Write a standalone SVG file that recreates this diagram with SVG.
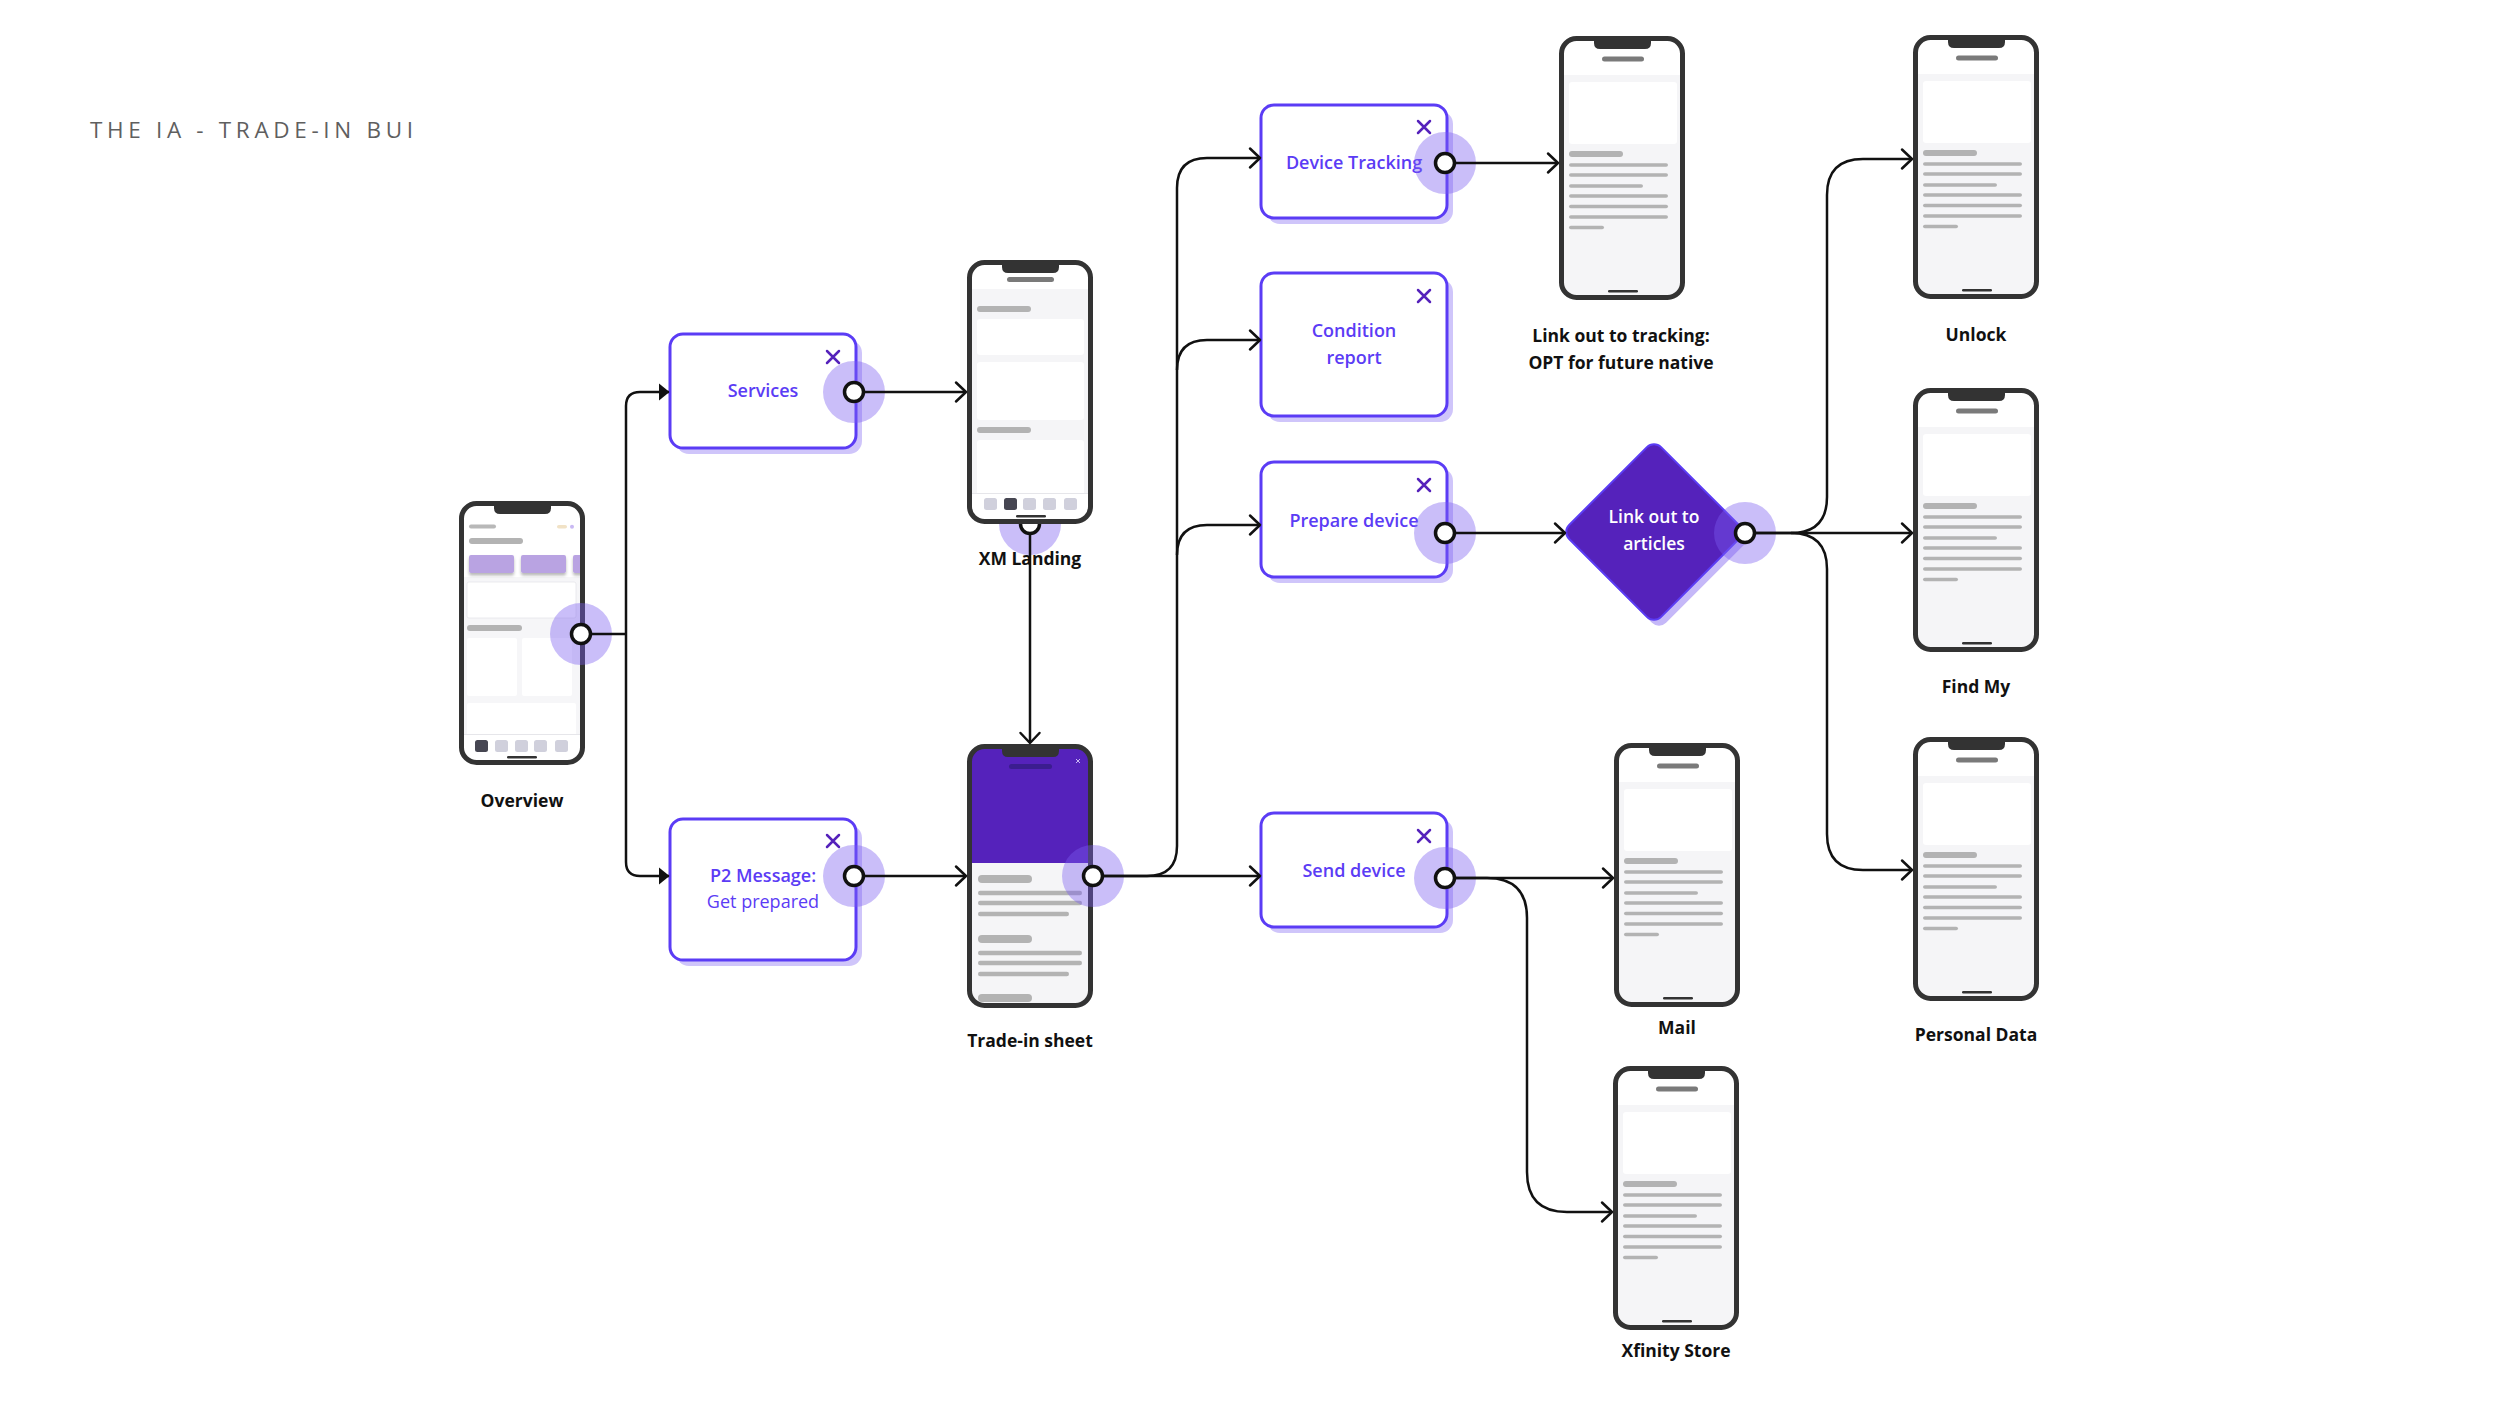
<svg xmlns="http://www.w3.org/2000/svg" xmlns:xlink="http://www.w3.org/1999/xlink" width="2500" height="1406" viewBox="0 0 2500 1406">
<style>
.frame{fill:none;stroke:#333;stroke-width:5}
.scr{fill:#fff}
.bg{fill:#f5f5f7}
.card{fill:#fff}
.bar{fill:#b3b3b3}
.pill{fill:#7a7a7a}
.ind{fill:#333}
.tab{fill:#d0d0dc}
.tabon{fill:#464652}
.conn{fill:none;stroke:#111;stroke-width:2.5}
.halo{fill:#7b5cf0;fill-opacity:.4}
.port{fill:#fff;stroke:#111;stroke-width:3.5}
.box{fill:#fff;stroke:#5b3cf5;stroke-width:3}
.shadow{fill:#cfc5fa}
.btxt{font-family:"Open Sans",Lato,"DejaVu Sans",sans-serif;font-weight:600;font-size:18px;fill:#5b3cf5;text-anchor:middle}
.btxt2{font-family:"Open Sans",Lato,"DejaVu Sans",sans-serif;font-weight:400;font-size:18px;fill:#5b3cf5;text-anchor:middle}
.lbl{font-family:"Open Sans",Lato,"DejaVu Sans",sans-serif;font-weight:700;font-size:17.5px;fill:#111;text-anchor:middle}
.wtxt{font-family:"Open Sans",Lato,"DejaVu Sans",sans-serif;font-weight:600;font-size:17.5px;fill:#fff;text-anchor:middle}
.xi{stroke:#5522bb;stroke-width:2.5;stroke-linecap:round;fill:none}
.title{font-family:"Open Sans",Lato,"DejaVu Sans",sans-serif;font-weight:400;font-size:22.5px;fill:#5f5f5f}
</style>
<defs>
<clipPath id="screenClip"><rect x="3" y="3" width="120" height="258" rx="13"/></clipPath>
<filter id="soft" x="-20%" y="-30%" width="140%" height="180%"><feDropShadow dx="0" dy="2.5" stdDeviation="1.8" flood-color="#000" flood-opacity="0.28"/></filter>
<marker id="chev" markerUnits="userSpaceOnUse" markerWidth="24" markerHeight="26" viewBox="-14 -13 24 26" refX="0" refY="0" orient="auto" overflow="visible">
<path d="M-10,-9.5 L0,0 L-10,9.5" fill="none" stroke="#111" stroke-width="2.5" stroke-linejoin="round" stroke-linecap="round"/>
</marker>
<marker id="tri" markerUnits="userSpaceOnUse" markerWidth="24" markerHeight="26" viewBox="-14 -13 24 26" refX="0" refY="0" orient="auto" overflow="visible">
<path d="M-10,-8.5 L0.5,0 L-10,8.5 Z" fill="#111"/>
</marker>
<path id="notch" d="M35,2 H92 V7 Q92,13 86,13 H41 Q35,13 35,7 Z" fill="#333"/>
<g id="tplDetail">
<rect class="scr" x="2.5" y="2.5" width="121" height="259" rx="15"/>
<g clip-path="url(#screenClip)">
<rect class="bg" x="3" y="39" width="120" height="222"/>
<rect class="card" x="10" y="46" width="108" height="62" rx="3"/>
<rect class="bar" x="10" y="115" width="54" height="6" rx="3"/>
<rect class="bar" x="10" y="127.2" width="99" height="3.6" rx="1.8"/>
<rect class="bar" x="10" y="137.2" width="99" height="3.6" rx="1.8"/>
<rect class="bar" x="10" y="148.2" width="74" height="3.6" rx="1.8"/>
<rect class="bar" x="10" y="158.2" width="99" height="3.6" rx="1.8"/>
<rect class="bar" x="10" y="168.7" width="99" height="3.6" rx="1.8"/>
<rect class="bar" x="10" y="179.2" width="99" height="3.6" rx="1.8"/>
<rect class="bar" x="10" y="189.7" width="35" height="3.6" rx="1.8"/>
</g>
<rect class="pill" x="43" y="20.5" width="42" height="5" rx="2.5"/>
<rect class="ind" x="49" y="254" width="30" height="2.5" rx="1.2"/>
<rect class="frame" x="2.5" y="2.5" width="121" height="259" rx="15"/>
<use href="#notch"/>
</g>
</defs>

<text class="title" x="90" y="138" textLength="323" lengthAdjust="spacing">THE IA - TRADE-IN BUI</text>

<!-- Overview -->
<g id="node-overview">
<g transform="translate(459,501)">
<rect class="scr" x="2.5" y="2.5" width="121" height="259" rx="15"/>
<g clip-path="url(#screenClip)">
<rect fill="#f6f6f8" x="3" y="76" width="120" height="157"/>
<rect x="10" y="23.5" width="27" height="4" rx="2" fill="#b8b8b8"/>
<rect x="98" y="24" width="10" height="3.5" rx="1.75" fill="#f1e2c6"/>
<circle cx="113" cy="25.7" r="2" fill="#c9b9f3"/>
<rect class="bar" x="10" y="37" width="54" height="6" rx="3"/>
<g filter="url(#soft)">
<rect x="10" y="54" width="45" height="18" rx="2" fill="#b9a3e2"/>
<rect x="62" y="54" width="45" height="18" rx="2" fill="#b9a3e2"/>
<rect x="114" y="54" width="14" height="18" rx="2" fill="#b9a3e2"/>
</g>
<rect x="8" y="81" width="109" height="36" rx="2" fill="#fff" stroke="#e6e6ea" stroke-width="0.8"/>
<rect class="bar" x="8" y="124" width="55" height="6" rx="3"/>
<rect class="card" x="8" y="137" width="50" height="58" rx="2"/>
<rect class="card" x="63" y="137" width="50" height="58" rx="2"/>
<rect class="card" x="8" y="202" width="109" height="36" rx="2"/>
<rect fill="#fff" x="3" y="233" width="120" height="30"/>
<rect fill="#e6e6ea" x="3" y="233" width="120" height="1"/>
<rect class="tabon" x="16" y="239" width="13" height="12" rx="2.5"/>
<rect class="tab" x="36" y="239" width="13" height="12" rx="2.5"/>
<rect class="tab" x="56" y="239" width="13" height="12" rx="2.5"/>
<rect class="tab" x="75" y="239" width="13" height="12" rx="2.5"/>
<rect class="tab" x="96" y="239" width="13" height="12" rx="2.5"/>
</g>
<rect class="ind" x="48" y="255" width="30" height="2.5" rx="1.2"/>
<rect class="frame" x="2.5" y="2.5" width="121" height="259" rx="15"/>
<use href="#notch"/>
</g>
<circle class="halo" cx="581" cy="634" r="31"/>
<circle class="port" cx="581" cy="634" r="9.5"/>
<text class="lbl" x="522" y="807">Overview</text>
</g>

<!-- Services -->
<g id="node-services">
<rect class="shadow" x="676" y="340" width="186" height="114" rx="13"/>
<rect class="box" x="670" y="334" width="186" height="114" rx="13"/>
<text class="btxt" x="763" y="397">Services</text>
<path class="xi" d="M827,351 L839,363 M839,351 L827,363"/>
<circle class="halo" cx="854" cy="392" r="31"/>
<circle class="port" cx="854" cy="392" r="9.5"/>
</g>

<!-- P2 Message -->
<g id="node-p2">
<rect class="shadow" x="676" y="825" width="186" height="141" rx="13"/>
<rect class="box" x="670" y="819" width="186" height="141" rx="13"/>
<text class="btxt" x="763" y="882">P2 Message:</text>
<text class="btxt2" x="763" y="908">Get prepared</text>
<path class="xi" d="M827,835 L839,847 M839,835 L827,847"/>
<circle class="halo" cx="854" cy="876" r="31"/>
<circle class="port" cx="854" cy="876" r="9.5"/>
</g>

<!-- XM Landing -->
<g id="node-xm-landing">
<circle class="halo" cx="1030" cy="524" r="31"/>
<circle class="port" cx="1030" cy="524" r="9.5"/>
<g transform="translate(967,260)">
<rect class="scr" x="2.5" y="2.5" width="121" height="259" rx="15"/>
<g clip-path="url(#screenClip)">
<rect class="bg" x="3" y="29" width="120" height="204"/>
<rect class="bar" x="10" y="46" width="54" height="6" rx="3"/>
<rect class="card" x="10" y="59" width="107" height="36" rx="3"/>
<rect class="card" x="10" y="102" width="107" height="58" rx="3"/>
<rect class="bar" x="10" y="167" width="54" height="6" rx="3"/>
<rect class="card" x="10" y="180" width="107" height="60" rx="3"/>
<rect fill="#fff" x="3" y="233" width="120" height="30"/>
<rect fill="#e6e6ea" x="3" y="233" width="120" height="1"/>
<rect class="tab" x="17" y="238" width="13" height="12" rx="2.5"/>
<rect class="tabon" x="37" y="238" width="13" height="12" rx="2.5"/>
<rect class="tab" x="56" y="238" width="13" height="12" rx="2.5"/>
<rect class="tab" x="76" y="238" width="13" height="12" rx="2.5"/>
<rect class="tab" x="97" y="238" width="13" height="12" rx="2.5"/>
</g>
<rect class="pill" x="40" y="17" width="47" height="5" rx="2.5"/>
<rect class="ind" x="49" y="255" width="30" height="2.5" rx="1.2"/>
<rect class="frame" x="2.5" y="2.5" width="121" height="259" rx="15"/>
<use href="#notch"/>
</g>
<text class="lbl" x="1030" y="565">XM Landing</text>
</g>

<!-- Trade-in sheet -->
<g id="node-trade-in">
<g transform="translate(967,744)">
<rect class="scr" x="2.5" y="2.5" width="121" height="259" rx="15"/>
<g clip-path="url(#screenClip)">
<rect fill="#5522bb" x="3" y="3" width="120" height="116"/>
<rect class="bg" x="3" y="119" width="120" height="142"/>
<rect class="bar" x="11" y="131" width="54" height="8" rx="4"/>
<rect class="bar" x="11" y="146.8" width="104" height="4.4" rx="2.2"/>
<rect class="bar" x="11" y="156.8" width="104" height="4.4" rx="2.2"/>
<rect class="bar" x="11" y="167.8" width="91" height="4.4" rx="2.2"/>
<rect class="bar" x="11" y="191" width="54" height="8" rx="4"/>
<rect class="bar" x="11" y="206.8" width="104" height="4.4" rx="2.2"/>
<rect class="bar" x="11" y="216.8" width="104" height="4.4" rx="2.2"/>
<rect class="bar" x="11" y="227.8" width="91" height="4.4" rx="2.2"/>
<rect class="bar" x="11" y="250" width="54" height="8" rx="4"/>
</g>
<rect x="42" y="20" width="43" height="5" rx="2.5" fill="#3b1d8f"/>
<path d="M109,15 L113,19 M113,15 L109,19" stroke="#c9b9f3" stroke-width="1" fill="none"/>
<rect class="frame" x="2.5" y="2.5" width="121" height="259" rx="15"/>
<use href="#notch"/>
</g>
<circle class="halo" cx="1093" cy="876" r="31"/>
<circle class="port" cx="1093" cy="876" r="9.5"/>
<text class="lbl" x="1030" y="1047">Trade-in sheet</text>
</g>

<!-- Device Tracking -->
<g id="node-device-tracking">
<rect class="shadow" x="1267" y="111" width="186" height="113" rx="13"/>
<rect class="box" x="1261" y="105" width="186" height="113" rx="13"/>
<text class="btxt" x="1354" y="169">Device Tracking</text>
<path class="xi" d="M1418,121 L1430,133 M1430,121 L1418,133"/>
<circle class="halo" cx="1445" cy="163" r="31"/>
<circle class="port" cx="1445" cy="163" r="9.5"/>
</g>

<!-- Condition report -->
<g id="node-condition-report">
<rect class="shadow" x="1267" y="279" width="186" height="143" rx="13"/>
<rect class="box" x="1261" y="273" width="186" height="143" rx="13"/>
<text class="btxt" x="1354" y="337">Condition</text>
<text class="btxt" x="1354" y="364">report</text>
<path class="xi" d="M1418,290 L1430,302 M1430,290 L1418,302"/>
</g>

<!-- Prepare device -->
<g id="node-prepare-device">
<rect class="shadow" x="1267" y="468" width="186" height="115" rx="13"/>
<rect class="box" x="1261" y="462" width="186" height="115" rx="13"/>
<text class="btxt" x="1354" y="527">Prepare device</text>
<path class="xi" d="M1418,479 L1430,491 M1430,479 L1418,491"/>
<circle class="halo" cx="1445" cy="533" r="31"/>
<circle class="port" cx="1445" cy="533" r="9.5"/>
</g>

<!-- Send device -->
<g id="node-send-device">
<rect class="shadow" x="1267" y="819" width="186" height="114" rx="13"/>
<rect class="box" x="1261" y="813" width="186" height="114" rx="13"/>
<text class="btxt" x="1354" y="877">Send device</text>
<path class="xi" d="M1418,830 L1430,842 M1430,830 L1418,842"/>
<circle class="halo" cx="1445" cy="878" r="31"/>
<circle class="port" cx="1445" cy="878" r="9.5"/>
</g>

<!-- Link out to articles (diamond) -->
<g id="node-link-articles">
<rect transform="translate(1659,538) rotate(45)" x="-65" y="-65" width="130" height="130" rx="10" fill="#c5b8f8"/>
<rect transform="translate(1654,532) rotate(45)" x="-65" y="-65" width="130" height="130" rx="10" fill="#5522bb" stroke="#5b3cf5" stroke-width="2"/>
<text class="wtxt" x="1654" y="523">Link out to</text>
<text class="wtxt" x="1654" y="550">articles</text>
<circle class="halo" cx="1745" cy="533" r="31"/>
<circle class="port" cx="1745" cy="533" r="9.5"/>
</g>

<!-- Detail screens -->
<g id="node-tracking-link">
<use href="#tplDetail" x="1559" y="36"/>
<text class="lbl" x="1621" y="342">Link out to tracking:</text>
<text class="lbl" x="1621" y="369">OPT for future native</text>
</g>
<g id="node-unlock">
<use href="#tplDetail" x="1913" y="35"/>
<text class="lbl" x="1976" y="341">Unlock</text>
</g>
<g id="node-find-my">
<use href="#tplDetail" x="1913" y="388"/>
<text class="lbl" x="1976" y="693">Find My</text>
</g>
<g id="node-personal-data">
<use href="#tplDetail" x="1913" y="737"/>
<text class="lbl" x="1976" y="1041">Personal Data</text>
</g>
<g id="node-mail">
<use href="#tplDetail" x="1614" y="743"/>
<text class="lbl" x="1677" y="1034">Mail</text>
</g>
<g id="node-xfinity-store">
<use href="#tplDetail" x="1613" y="1066"/>
<text class="lbl" x="1676" y="1357">Xfinity Store</text>
</g>

<!-- Connectors -->
<g id="connectors">
<path class="conn" d="M591,634 H626"/>
<path class="conn" d="M626,634 V406 Q626,392 640,392 H669" marker-end="url(#tri)"/>
<path class="conn" d="M626,634 V862 Q626,876 640,876 H669" marker-end="url(#tri)"/>
<path class="conn" d="M864,392 H966" marker-end="url(#chev)"/>
<path class="conn" d="M864,876 H966" marker-end="url(#chev)"/>
<path class="conn" d="M1030,534 V743" marker-end="url(#chev)"/>
<path class="conn" d="M1103,876 H1260" marker-end="url(#chev)"/>
<path class="conn" d="M1103,876 H1147 Q1177,876 1177,846 V188 Q1177,158 1207,158 H1260" marker-end="url(#chev)"/>
<path class="conn" d="M1177,370 Q1177,340 1207,340 H1260" marker-end="url(#chev)"/>
<path class="conn" d="M1177,555 Q1177,525 1207,525 H1260" marker-end="url(#chev)"/>
<path class="conn" d="M1455,163 H1558" marker-end="url(#chev)"/>
<path class="conn" d="M1455,533 H1565" marker-end="url(#chev)"/>
<path class="conn" d="M1755,533 H1912" marker-end="url(#chev)"/>
<path class="conn" d="M1755,533 H1791 Q1827,533 1827,497 V195 Q1827,159 1863,159 H1912" marker-end="url(#chev)"/>
<path class="conn" d="M1791,533 Q1827,533 1827,569 V834 Q1827,870 1863,870 H1912" marker-end="url(#chev)"/>
<path class="conn" d="M1455,878 H1613" marker-end="url(#chev)"/>
<path class="conn" d="M1455,878 H1487 Q1527,878 1527,918 V1172 Q1527,1212 1567,1212 H1612" marker-end="url(#chev)"/>
</g>
</svg>
